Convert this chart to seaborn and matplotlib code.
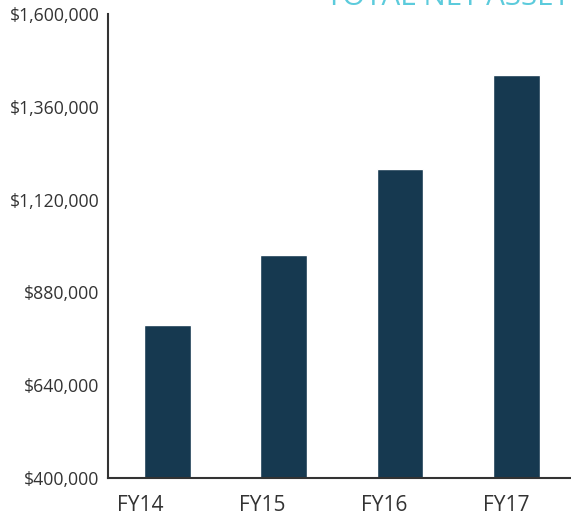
import pandas as pd
import seaborn as sns
import matplotlib.pyplot as plt
from matplotlib.ticker import FuncFormatter

sns.set_style('white')
plt.rcParams['font.family'] = ['Open Sans', 'DejaVu Sans']

# Datos
anios = ['FY14', 'FY15', 'FY16', 'FY17']
activos_netos = [796000, 977000, 1199000, 1442000]
ticks_y = [400000, 640000, 880000, 1120000, 1360000, 1600000]

df = pd.DataFrame({'Anio': anios, 'Activos': activos_netos})

fig = plt.figure(figsize=(5.71, 5.19), dpi=100)
ax = fig.add_axes([0.189, 0.079, 0.811, 0.894])

sns.barplot(data=df, x='Anio', y='Activos', ax=ax, color='#163950',
            width=0.4, saturation=1)

ax.set_ylim(400000, 1600000)
ax.set_xlim(-0.51, 3.47)
ax.set_yticks(ticks_y)
ax.yaxis.set_major_formatter(FuncFormatter(lambda v, p: f'${v:,.0f}'))

# en el original las etiquetas del eje x no quedan centradas bajo las barras
ax.set_xticks([i * 1.048 - 0.23 for i in range(len(anios))])
ax.set_xticklabels(anios)

ax.set_xlabel('')
ax.set_ylabel('')
ax.tick_params(axis='y', length=0, labelsize=12.7, labelcolor='#333333', pad=6)
ax.tick_params(axis='x', length=0, labelsize=15, labelcolor='#333333', pad=12)

sns.despine(ax=ax)
for lado in ['left', 'bottom']:
    ax.spines[lado].set_color('#333333')
    ax.spines[lado].set_linewidth(1.5)

fig.text(0.571, 1 - 5 / 519, 'TOTAL NET ASSETS', color='#5ccbdc',
         fontsize=21.3, va='baseline', ha='left')

fig.savefig('out.png', dpi=100)
